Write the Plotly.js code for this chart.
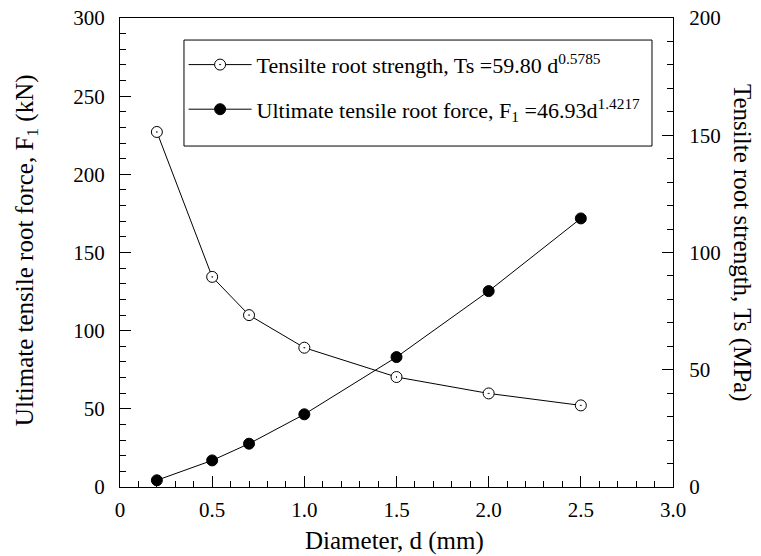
<!DOCTYPE html>
<html>
<head>
<meta charset="utf-8">
<script src="https://cdn.plot.ly/plotly-3.0.1.min.js"></script>
<style>html,body{margin:0;padding:0;background:#fff;}</style>
</head>
<body>
<div id="chart" style="width:761px;height:556px;"></div>
<script>
// Data
const diameter = [0.2, 0.5, 0.7, 1.0, 1.5, 2.0, 2.5];
const tensileStrength = [151.4, 89.6, 73.3, 59.4, 46.9, 39.9, 34.8]; // MPa, right axis
const ultimateForce = [4.3, 17.0, 27.7, 46.5, 83.1, 125.3, 171.8];     // kN, left axis
const xTickVals = [0, 0.5, 1.0, 1.5, 2.0, 2.5, 3.0];
const xTickText = ['0', '0.5', '1.0', '1.5', '2.0', '2.5', '3.0'];

const FONT = '"Liberation Serif"';

const traces = [
  {
    x: diameter, y: tensileStrength, yaxis: 'y2',
    type: 'scatter', mode: 'lines+markers',
    name: 'Tensilte root strength, Ts =59.80 d<sup>0.5785</sup>',
    legendgroup: 'a',
    line: {color: '#000', width: 1},
    marker: {symbol: 'circle-dot', size: 11, color: '#fff', line: {color: '#000', width: 1}}
  },
  {
    x: diameter, y: ultimateForce, yaxis: 'y',
    type: 'scatter', mode: 'lines+markers',
    name: 'Ultimate tensile root force, F<sub>1</sub> =46.93d<sup>1.4217</sup>',
    legendgroup: 'b',
    line: {color: '#000', width: 1},
    marker: {symbol: 'circle', size: 11, color: '#000', line: {color: '#000', width: 1}}
  }
];

const layout = {
  width: 761, height: 556,
  margin: {l: 120, r: 88, t: 18, b: 69},
  paper_bgcolor: '#fff', plot_bgcolor: '#fff',
  font: {family: FONT, size: 21, color: '#000'},
  showlegend: true,
  legend: {
    x: 0.115, y: 0.945, xanchor: 'left', yanchor: 'top',
    bgcolor: 'rgba(0,0,0,0)', borderwidth: 0, itemwidth: 63,
    font: {family: FONT, size: 22, color: '#000'},
    tracegroupgap: 13, traceorder: 'grouped'
  },
  xaxis: {
    range: [0, 3], tickmode: 'array', tickvals: xTickVals, ticktext: xTickText,
    ticks: 'inside', ticklen: 11, tickwidth: 1, tickcolor: '#000',
    minor: {dtick: 0.1, tick0: 0, ticks: 'inside', ticklen: 6, tickwidth: 1, tickcolor: '#000'},
    showline: true, linecolor: '#000', linewidth: 1, mirror: true,
    showgrid: false, zeroline: false, ticklabelstandoff: 4,
    tickfont: {family: FONT, size: 21, color: '#000'}
  },
  yaxis: {
    range: [0, 300], dtick: 50, tick0: 0,
    ticks: 'inside', ticklen: 11, tickwidth: 1, tickcolor: '#000',
    minor: {dtick: 10, ticks: 'inside', ticklen: 6, tickwidth: 1, tickcolor: '#000'},
    showline: true, linecolor: '#000', linewidth: 1,
    showgrid: false, zeroline: false, ticklabelstandoff: 10,
    tickfont: {family: FONT, size: 21, color: '#000'}
  },
  yaxis2: {
    range: [0, 200], dtick: 50, tick0: 0, overlaying: 'y', side: 'right',
    ticks: 'inside', ticklen: 11, tickwidth: 1, tickcolor: '#000',
    minor: {dtick: 10, ticks: 'inside', ticklen: 6, tickwidth: 1, tickcolor: '#000'},
    showline: true, linecolor: '#000', linewidth: 1,
    showgrid: false, zeroline: false, ticklabelstandoff: 11,
    tickfont: {family: FONT, size: 21, color: '#000'}
  },
  shapes: [
    {type: 'rect', xref: 'paper', yref: 'paper', x0: 0.1157, x1: 0.962, y0: 0.727, y1: 0.953,
     line: {color: '#000', width: 1}, fillcolor: 'rgba(0,0,0,0)'}
  ],
  annotations: [
    {text: 'Diameter, d (mm)', xref: 'paper', yref: 'paper', x: 0.497, y: -0.115,
     xanchor: 'center', yanchor: 'middle', showarrow: false, font: {family: FONT, size: 25, color: '#000'}},
    {text: 'Ultimate tensile root force, F<sub>1</sub> (kN)', xref: 'paper', yref: 'paper', x: -0.170, y: 0.505,
     xanchor: 'center', yanchor: 'middle', textangle: -90, showarrow: false, font: {family: FONT, size: 25, color: '#000'}},
    {text: 'Tensilte root strength, Ts (MPa)', xref: 'paper', yref: 'paper', x: 1.125, y: 0.520,
     xanchor: 'center', yanchor: 'middle', textangle: 90, showarrow: false, font: {family: FONT, size: 25, color: '#000'}}
  ]
};

Plotly.newPlot('chart', traces, layout, {displayModeBar: false, staticPlot: true});
</script>
</body>
</html>
